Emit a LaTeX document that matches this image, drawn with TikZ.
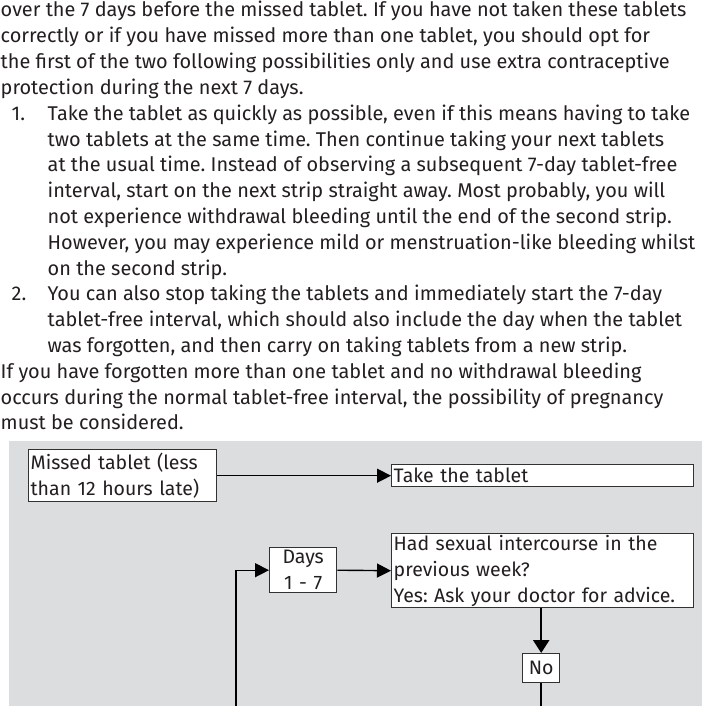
\documentclass[tikz,border=0pt]{standalone}
\usepackage{fontspec}
\setmainfont{Fira Sans}
\usetikzlibrary{arrows.meta,positioning}
\definecolor{panelgrey}{RGB}{220,221,223}
\definecolor{boxline}{RGB}{50,50,50}
\definecolor{inkgrey}{RGB}{35,31,32}
\frenchspacing

\begin{document}
\begin{tikzpicture}[
        x=1pt, y=-1pt,
        line width=1.4pt,
        font=\fontsize{19.5}{25.8}\selectfont,
        text=inkgrey,
        >={Triangle[length=14pt,width=14pt]}
    ]
    \tikzset{
        bodytext/.style = {anchor=base west, align=left, inner sep=0pt, font=\fontsize{19.9}{25.8}\selectfont},
        flowbox/.style = {rectangle, draw=boxline, fill=white, anchor=north west, align=left, inner xsep=2pt, inner ysep=0pt},
    }
    \useasboundingbox (0,0) rectangle (703,706);
    % text above the chart (anchored at the baseline of the last line)
    \node[bodytext] at (0,94.4) (intro) {over the 7 days before the missed tablet. If you have not taken these tablets\\
        correctly or if you have missed more than one tablet, you should opt for\\
        the first of the two following possibilities only and use extra contraceptive\\
        protection during the next 7 days.};
    \node[bodytext] at (11,120.2) (num1) {1.};
    \node[bodytext] at (47,275) (item1) {Take the tablet as quickly as possible, even if this means having to take\\
        two tablets at the same time. Then continue taking your next tablets\\
        at the usual time. Instead of observing a subsequent 7-day tablet-free\\
        interval, start on the next strip straight away. Most probably, you will\\
        not experience withdrawal bleeding until the end of the second strip.\\
        However, you may experience mild or menstruation-like bleeding whilst\\
        on the second strip.};
    \node[bodytext] at (11,300.8) (num2) {2.};
    \node[bodytext] at (47,352.4) (item2) {You can also stop taking the tablets and immediately start the 7-day\\
        tablet-free interval, which should also include the day when the tablet\\
        was forgotten, and then carry on taking tablets from a new strip.};
    \node[bodytext] at (0,429.8) (outro) {If you have forgotten more than one tablet and no withdrawal bleeding\\
        occurs during the normal tablet-free interval, the possibility of pregnancy\\
        must be considered.};
    % chart
    \fill[panelgrey] (9,441) rectangle (702,706);
    \node[flowbox, text width=184pt, minimum height=52pt] at (28,449) (missed) {Missed tablet (less\\than 12 hours late)};
    \node[flowbox, text width=298pt, minimum height=22pt] at (391,464) (take) {Take the tablet};
    \node[flowbox, text width=298pt, minimum height=74pt] at (391,533) (had) {Had sexual intercourse in the\\previous week?\\Yes: Ask your doctor for advice.};
    \node[flowbox, align=center, text width=63pt, minimum height=45pt] at (269,547) (days) {Days\\1 - 7};
    \node[flowbox, align=center, text width=33pt, minimum height=29pt] at (522,653) (no) {No};
    \coordinate (loopfoot) at (236,706);
    \draw[->] (missed.east) -- (take.west);
    \draw[->] (days.east) -- (had.west);
    \draw[->] (loopfoot) |- (days.west);
    \draw[->, line width=2.4pt, >={Triangle[length=13pt,width=16pt]}] (had.south -| no.north) -- (no.north);
    \draw[line width=2.4pt] (no.south) -- (no.south |- loopfoot);
\end{tikzpicture}
\end{document}
